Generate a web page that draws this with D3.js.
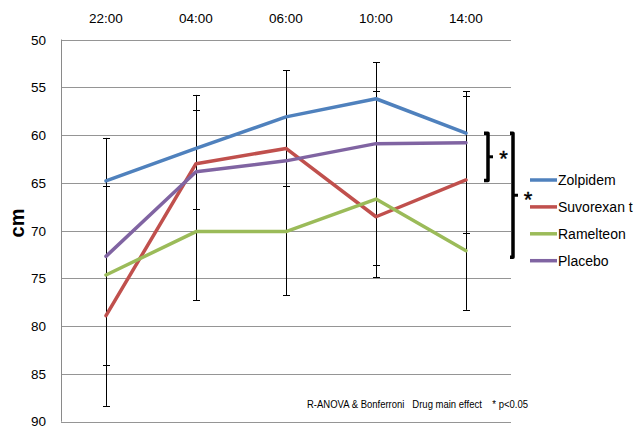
<!DOCTYPE html>
<html><head><meta charset="utf-8">
<script src="https://cdn.jsdelivr.net/npm/d3@7"></script>
<style>body{margin:0;background:#fff}svg{display:block;font-family:"Liberation Sans",Arial,sans-serif}</style>
</head><body>
<svg id="c" width="638" height="428"></svg>
<script>
const categories = ["22:00","04:00","06:00","10:00","14:00"];
const yTicks = [50,55,60,65,70,75,80,85,90];
const seriesNames = ["Zolpidem","Suvorexan t","Ramelteon","Placebo"];
const zolpidem   = [64.8, 61.4, 58.1, 56.2, 59.8];
const suvorexant = [78.9, 63.0, 61.4, 68.55, 64.7];
const ramelteon  = [74.65, 70.1, 70.1, 66.7, 72.1];
const placebo    = [72.7, 63.85, 62.7, 60.9, 60.8];
// one-sided error bars: "up" toward smaller values (top), "down" toward larger values
const zolpidemErrUp     = [4.5, 5.6, 4.9, 3.8, 4.4];
const placeboErrUp      = [7.35, 6.45, null, 5.5, 4.9];
const suvorexantErrDown = [9.45, 4.75, 3.95, 6.35, 5.6];
const ramelteonErrDown  = [9.4, 7.2, 6.65, 6.9, 6.2];
const bracketSmall = [59.8, 64.75];
const bracketLarge = [59.8, 72.8];
const noteText = "R-ANOVA & Bonferroni   Drug main effect    * p<0.05";

const colors = ["#4F81BD","#C0504D","#9BBB59","#8064A2"];
const seriesData = [zolpidem, suvorexant, ramelteon, placebo];

const svg = d3.select("#c");
const x = d3.scaleBand().domain(categories).range([61, 511]).padding(0);
const y = d3.scaleLinear().domain([50, 90]).range([39.5, 421.7]);
const cx = c => x(c) + x.bandwidth()/2;

// grid
svg.append("g").selectAll("line").data(yTicks).join("line")
  .attr("x1", 61).attr("x2", 511)
  .attr("y1", d => Math.round(y(d))+0.5).attr("y2", d => Math.round(y(d))+0.5)
  .attr("stroke", "#959595").attr("stroke-width", 1);
// left axis line
svg.append("line").attr("x1", 61.5).attr("x2", 61.5)
  .attr("y1", y(50)).attr("y2", y(90)).attr("stroke", "#8a8a8a");

// y labels
svg.append("g").selectAll("text").data(yTicks).join("text")
  .attr("x", 46).attr("y", d => Math.min(y(d) + 5, 426))
  .attr("text-anchor", "end").attr("font-size", 13.5).attr("fill", "#000")
  .text(d => d);
// top category labels
svg.append("g").selectAll("text").data(categories).join("text")
  .attr("x", d => cx(d)).attr("y", 23)
  .attr("text-anchor", "middle").attr("font-size", 13.5).attr("fill", "#000")
  .text(d => d);
// y title
svg.append("text").attr("transform", "translate(24,223) rotate(-90)")
  .attr("text-anchor", "middle").attr("font-size", 20).attr("font-weight", "bold")
  .text("cm");

// error bars
const ebs = [];
categories.forEach((c, i) => {
  const ends = [];
  if (zolpidemErrUp[i] != null) ends.push(zolpidem[i] - zolpidemErrUp[i]);
  if (placeboErrUp[i] != null) ends.push(placebo[i] - placeboErrUp[i]);
  if (suvorexantErrDown[i] != null) ends.push(suvorexant[i] + suvorexantErrDown[i]);
  if (ramelteonErrDown[i] != null) ends.push(ramelteon[i] + ramelteonErrDown[i]);
  ebs.push({c, ends});
});
const eg = svg.append("g").attr("stroke", "#000").attr("stroke-width", 1);
ebs.forEach(e => {
  const [lo, hi] = d3.extent(e.ends);
  const xx = Math.round(cx(e.c)) + 0.5;
  eg.append("line").attr("x1", xx).attr("x2", xx).attr("y1", y(lo)).attr("y2", y(hi));
  e.ends.forEach(v => {
    eg.append("line").attr("x1", xx-3.5).attr("x2", xx+3.5)
      .attr("y1", Math.round(y(v))+0.5).attr("y2", Math.round(y(v))+0.5);
  });
});

// lines
const line = d3.line().x((d, i) => cx(categories[i])).y(d => y(d));
seriesData.forEach((s, k) => {
  svg.append("path").attr("d", line(s)).attr("fill", "none")
    .attr("stroke", colors[k]).attr("stroke-width", 3.5)
    .attr("stroke-linejoin", "round").attr("stroke-linecap", "round");
});

// brackets
function bracket(xb, v0, v1, hook, tick) {
  const y0 = y(v0), y1 = y(v1), ym = (y0 + y1) / 2;
  svg.append("path")
    .attr("d", `M${xb-hook},${y0} L${xb},${y0} L${xb},${y1} L${xb-hook},${y1}`)
    .attr("fill", "none").attr("stroke", "#000").attr("stroke-width", 3.5)
    .attr("stroke-linejoin", "round");
  svg.append("line").attr("x1", xb).attr("x2", xb + tick)
    .attr("y1", ym).attr("y2", ym).attr("stroke", "#000").attr("stroke-width", 3);
  return ym;
}
const ym1 = bracket(488, bracketSmall[0], bracketSmall[1], 4, 5);
svg.append("text").attr("x", 503.5).attr("y", ym1 + 9.5).attr("text-anchor", "middle")
  .attr("font-size", 22).attr("stroke", "#000").attr("stroke-width", 0.4).text("*");
const ym2 = bracket(513, bracketLarge[0], bracketLarge[1], 3, 5);
svg.append("text").attr("x", 528).attr("y", ym2 + 12).attr("text-anchor", "middle")
  .attr("font-size", 22).attr("stroke", "#000").attr("stroke-width", 0.4).text("*");

// legend
const lg = svg.append("g");
seriesNames.forEach((n, k) => {
  const yy = 180 + k * 26.9;
  lg.append("line").attr("x1", 530).attr("x2", 557).attr("y1", yy).attr("y2", yy)
    .attr("stroke", colors[k]).attr("stroke-width", 3.5);
  lg.append("text").attr("x", 558).attr("y", yy + 5).attr("font-size", 14)
    .style("white-space", "pre").text(n);
});

// note
svg.append("text").attr("x", 307).attr("y", 408).attr("font-size", 11.5)
  .attr("textLength", 221).attr("lengthAdjust", "spacingAndGlyphs")
  .style("white-space", "pre").text(noteText);
</script>
</body></html>
